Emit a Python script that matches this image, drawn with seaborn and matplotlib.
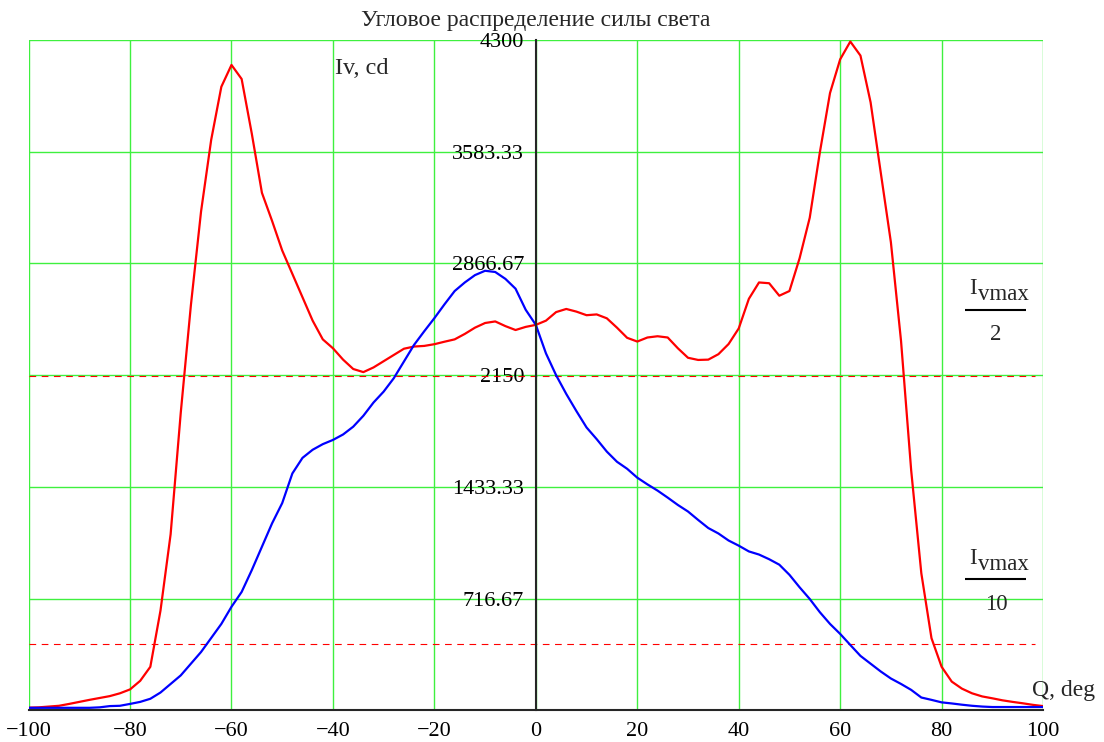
import numpy as np
import pandas as pd
import matplotlib
matplotlib.use("Agg")
import matplotlib.pyplot as plt
import seaborn as sns

# Viewing angle, degrees (2-degree step)
angle = list(range(-100, 101, 2))

# Luminous intensity, cd — wide-angle source (two side lobes)
iv_red = [
    18, 20, 25, 30, 42, 55, 68, 80, 92, 110,            # -100 .. -82
    135, 190, 280, 640, 1130, 1910, 2600, 3200, 3660, 4000,  # -80 .. -62
    4140, 4050, 3700, 3320, 3140, 2950, 2800, 2650, 2500, 2380,  # -60 .. -42
    2323, 2250, 2190, 2170, 2200, 2240, 2280, 2320, 2334, 2338,  # -40 .. -22
    2349, 2365, 2380, 2415, 2455, 2485, 2495, 2465, 2440, 2460,  # -20 .. -2
    2473,                                                # 0
    2500, 2555, 2575, 2558, 2535, 2540, 2515, 2455, 2390, 2366,  # 2 .. 20
    2392, 2400, 2392, 2323, 2262, 2248, 2250, 2285, 2350, 2450,  # 22 .. 40
    2640, 2745, 2740, 2660, 2690, 2900, 3160, 3580, 3960, 4176,  # 42 .. 60
    4290, 4200, 3900, 3450, 3003, 2370, 1540, 880, 464, 280,     # 62 .. 80
    185, 140, 110, 90, 78, 65, 55, 46, 36, 28,           # 82 .. 100
]

# Luminous intensity, cd — narrow-beam source
iv_blue = [
    17, 17, 17, 17, 17, 17, 17, 20, 28, 30,              # -100 .. -82
    42, 55, 75, 115, 170, 225, 300, 375, 465, 555,       # -80 .. -62
    665, 760, 900, 1050, 1200, 1330, 1520, 1620, 1672, 1708,  # -60 .. -42
    1735, 1770, 1820, 1890, 1975, 2045, 2131, 2238, 2345, 2432,  # -40 .. -22
    2516, 2605, 2690, 2745, 2792, 2820, 2812, 2768, 2705, 2570,  # -20 .. -2
    2473,                                                # 0
    2290, 2150, 2030, 1920, 1815, 1740, 1660, 1595, 1550, 1493,  # 2 .. 20
    1450, 1410, 1365, 1318, 1276, 1222, 1170, 1135, 1090, 1057,  # 22 .. 40
    1020, 1000, 970, 935, 870, 790, 715, 630, 555, 491,  # 42 .. 60
    420, 350, 300, 250, 205, 170, 132, 83, 68, 52,       # 62 .. 80
    45, 37, 30, 25, 22, 22, 22, 22, 22, 22,              # 82 .. 100
]

x_ticks = [-100, -80, -60, -40, -20, 0, 20, 40, 60, 80, 100]
y_ticks = [0, 716.67, 1433.33, 2150, 2866.67, 3583.33, 4300]
y_tick_labels = ["", "716.67", "1433.33", "2150", "2866.67", "3583.33", "4300"]

title = "Угловое распределение силы света"

ivmax = max(iv_red)

sns.set_style("white")
plt.rcParams["font.family"] = ["Liberation Serif", "DejaVu Serif"]
plt.rcParams["axes.unicode_minus"] = True

df = pd.DataFrame({"Q": angle, "red": iv_red, "blue": iv_blue})

fig = plt.figure(figsize=(11.04, 7.42), dpi=100)
ax = fig.add_axes([0.0259, 0.0425, 0.9189, 0.9036])

grid_col = "#3ff03f"
for xv in x_ticks:
    ax.axvline(xv, color=grid_col, lw=1.0, zorder=0)
for yv in y_ticks[1:]:
    ax.axhline(yv, color=grid_col, lw=1.0, zorder=0)

sns.lineplot(data=df, x="Q", y="red", color="#ff0000", lw=1.6, ax=ax, zorder=3)
sns.lineplot(data=df, x="Q", y="blue", color="#0000ff", lw=1.6, ax=ax, zorder=3)

ax.hlines([ivmax / 2, ivmax / 10], -100, 98.5, colors="#ff0000",
          linestyles=(0, (6, 5)), lw=0.8, zorder=2)

ax.set_xlim(-100, 100)
ax.set_ylim(0, 4300)
ax.set_xticks(x_ticks)
ax.set_yticks(y_ticks)
ax.set_yticklabels(y_tick_labels)
ax.set_xlabel("")
ax.set_ylabel("")

for side in ("top", "right"):
    ax.spines[side].set_visible(False)
ax.spines["left"].set_position(("data", 0))
ax.spines["left"].set_linewidth(1.5)
ax.spines["bottom"].set_linewidth(1.5)
ax.spines["left"].set_zorder(4)
ax.spines["bottom"].set_zorder(4)

ax.tick_params(axis="x", direction="inout", length=15, width=1.5,
               labelsize=16, pad=1, colors="black")
ax.tick_params(axis="y", direction="inout", length=17, width=1.5,
               labelsize=16, pad=0, colors="black")

ax.set_title(title, fontsize=17, pad=10)

ax.text(-39.6, 4120, "Iv, cd", fontsize=17.5, ha="left", va="center")
ax.text(97.8, 125, "Q, deg", fontsize=17, ha="left", va="center")


def fraction(xc, ybar, denom):
    """Mathcad-style stacked fraction I_vmax / denom centred at (xc, ybar)."""
    fs = 16.5
    ax.annotate("I", xy=(xc, ybar), xytext=(-19, 11.5), textcoords="offset points",
                fontsize=fs, ha="left", va="baseline")
    ax.annotate("vmax", xy=(xc, ybar), xytext=(-13, 7), textcoords="offset points",
                fontsize=fs, ha="left", va="baseline")
    ax.plot([xc - 6.0, xc + 6.0], [ybar, ybar], color="black", lw=1.5,
            solid_capstyle="butt", zorder=5)
    ax.annotate(denom, xy=(xc, ybar), xytext=(0, -22), textcoords="offset points",
                fontsize=fs, ha="center", va="baseline")


fraction(90.7, 2571, "2")
fraction(90.7, 840, "10")

fig.savefig("out.png", dpi=100)
